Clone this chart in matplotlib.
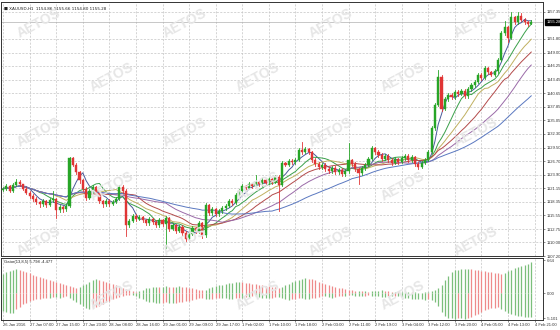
import matplotlib
matplotlib.use('Agg')
import matplotlib.pyplot as plt
import numpy as np
import pandas as pd

plt.rcParams['font.family'] = ['Liberation Sans', 'DejaVu Sans']

# ---- XAUUSD H1 candles ----
first_open = 1120.8
closes = [
    1121.0, 1121.5, 1120.6, 1121.8, 1122.5, 1121.9, 1121.0, 1120.2, 1119.5, 1119.0,
    1118.3, 1117.8, 1118.5, 1117.6, 1118.7, 1119.0, 1116.6, 1117.2, 1116.8, 1117.5,
    1127.3, 1126.0, 1124.4, 1122.8, 1121.0, 1119.2, 1120.5, 1121.3, 1120.2, 1118.5,
    1117.8, 1118.6, 1117.9, 1118.4, 1119.0, 1121.4, 1120.6, 1113.6, 1114.4, 1115.5,
    1114.8, 1115.2, 1114.5, 1113.9, 1114.8, 1114.2, 1113.5, 1114.6, 1113.8, 1115.0,
    1112.8, 1113.5, 1112.4, 1113.2, 1112.0, 1110.7, 1111.8, 1112.9, 1112.3, 1114.0,
    1111.5, 1117.6, 1116.0, 1116.8, 1115.8, 1116.4, 1117.0, 1117.5, 1118.6, 1118.0,
    1119.8, 1120.5, 1121.5, 1121.2, 1122.0, 1121.6, 1122.4, 1121.9, 1122.8, 1122.2,
    1123.0, 1122.5, 1123.5, 1121.8, 1126.3, 1126.0, 1126.8, 1126.5, 1127.0, 1129.0,
    1128.6, 1129.2, 1128.5, 1127.0, 1126.2, 1125.4, 1126.0, 1125.1, 1124.6, 1125.3,
    1124.4, 1124.9, 1124.0, 1124.6, 1126.9, 1126.2, 1125.0, 1124.2, 1125.2, 1126.0,
    1127.2, 1129.4, 1128.6, 1128.0, 1127.2, 1127.8, 1127.0, 1126.4, 1127.1, 1126.6,
    1127.3, 1127.8, 1126.9, 1127.5, 1126.2, 1125.5, 1126.4, 1127.0, 1128.6, 1133.5,
    1138.3, 1144.0, 1137.5, 1139.5, 1140.3, 1139.8, 1141.0, 1140.5, 1141.2, 1140.0,
    1141.5, 1142.3, 1143.0, 1144.5, 1143.8, 1145.8, 1145.0, 1144.5, 1145.2, 1147.5,
    1153.0, 1154.2, 1152.0, 1156.3, 1155.2, 1156.5, 1155.8, 1155.3, 1154.86, 1155.28,
]
highs = [
    1121.4, 1121.9, 1121.8, 1122.2, 1123.0, 1122.8, 1122.1, 1121.3, 1120.5, 1119.9,
    1119.3, 1118.6, 1118.9, 1118.8, 1119.1, 1120.6, 1119.2, 1117.6, 1117.5, 1117.9,
    1127.6, 1127.5, 1126.3, 1124.7, 1123.1, 1121.3, 1120.9, 1121.7, 1121.6, 1120.5,
    1118.8, 1119.0, 1118.9, 1118.8, 1119.4, 1121.8, 1121.7, 1120.9, 1114.9, 1115.9,
    1115.8, 1115.6, 1115.5, 1114.8, 1115.2, 1115.1, 1114.5, 1115.0, 1114.9, 1115.4,
    1115.3, 1113.9, 1113.8, 1113.6, 1113.5, 1112.3, 1112.2, 1113.3, 1113.2, 1114.4,
    1114.2, 1118.0, 1117.9, 1117.2, 1117.1, 1116.8, 1117.4, 1117.9, 1119.0, 1118.9,
    1120.2, 1120.9, 1121.9, 1121.8, 1122.4, 1122.3, 1123.8, 1122.7, 1123.2, 1123.1,
    1123.4, 1123.3, 1123.9, 1123.8, 1126.7, 1126.6, 1127.2, 1127.1, 1127.4, 1129.4,
    1130.6, 1129.6, 1129.5, 1128.8, 1127.3, 1126.5, 1126.4, 1126.3, 1125.4, 1125.7,
    1125.6, 1125.3, 1125.2, 1125.0, 1130.4, 1127.2, 1126.5, 1125.3, 1125.6, 1126.4,
    1127.6, 1129.8, 1129.7, 1128.9, 1128.3, 1128.2, 1128.1, 1127.3, 1127.5, 1127.4,
    1127.7, 1128.2, 1128.1, 1127.9, 1127.8, 1126.5, 1126.8, 1127.4, 1129.0, 1133.9,
    1138.7, 1145.4, 1144.3, 1139.9, 1140.7, 1140.6, 1141.4, 1141.3, 1141.6, 1141.5,
    1141.9, 1142.7, 1143.4, 1144.9, 1144.8, 1146.2, 1146.1, 1145.3, 1145.6, 1147.9,
    1153.4, 1155.6, 1154.5, 1157.3, 1156.6, 1157.4, 1157.1, 1156.1, 1155.6, 1155.66,
]
lows = [
    1120.5, 1120.8, 1120.3, 1120.4, 1121.5, 1121.6, 1120.7, 1119.9, 1119.1, 1118.6,
    1117.9, 1117.3, 1117.5, 1117.2, 1117.4, 1118.4, 1115.0, 1116.2, 1116.3, 1116.5,
    1117.2, 1125.6, 1124.0, 1122.3, 1120.5, 1118.8, 1118.9, 1120.1, 1119.8, 1118.1,
    1117.3, 1117.5, 1117.5, 1117.6, 1118.1, 1118.8, 1120.2, 1111.3, 1113.2, 1114.1,
    1114.4, 1114.5, 1114.1, 1113.5, 1113.6, 1113.8, 1113.1, 1113.2, 1113.4, 1108.8,
    1112.4, 1112.5, 1112.0, 1112.1, 1111.6, 1110.2, 1110.4, 1111.5, 1111.9, 1112.0,
    1111.0, 1111.2, 1115.6, 1115.7, 1115.4, 1115.5, 1116.1, 1116.7, 1117.2, 1117.6,
    1117.8, 1119.5, 1120.2, 1120.8, 1120.9, 1121.2, 1121.3, 1121.5, 1121.6, 1121.8,
    1121.9, 1122.1, 1122.2, 1116.5, 1121.5, 1125.6, 1125.7, 1126.1, 1126.2, 1126.8,
    1128.2, 1128.3, 1128.1, 1126.6, 1125.8, 1125.0, 1125.1, 1124.7, 1124.2, 1124.3,
    1124.0, 1124.1, 1123.6, 1123.7, 1124.3, 1125.8, 1124.6, 1122.0, 1123.9, 1124.9,
    1125.7, 1126.9, 1128.2, 1127.6, 1126.8, 1126.9, 1126.6, 1126.0, 1126.1, 1126.2,
    1126.3, 1127.0, 1126.5, 1126.6, 1125.8, 1125.0, 1125.2, 1126.1, 1126.7, 1128.3,
    1133.2, 1138.0, 1137.0, 1137.2, 1139.1, 1139.4, 1139.5, 1140.1, 1140.2, 1139.6,
    1139.7, 1141.2, 1142.0, 1142.7, 1143.4, 1143.5, 1144.6, 1144.1, 1144.2, 1144.9,
    1147.2, 1152.7, 1151.2, 1151.7, 1154.8, 1154.9, 1155.4, 1154.9, 1154.5, 1154.80,
]

# Gator oscillator histogram
gator_up = [
    3.6, 3.9, 4.2, 4.4, 4.5, 4.3, 4.1, 3.9, 3.7, 3.5,
    3.3, 3.1, 2.9, 2.7, 2.5, 2.3, 2.1, 1.9, 1.7, 1.5,
    1.3, 1.1, 1.0, 1.2, 1.5, 1.8, 2.1, 2.4, 2.6, 2.5,
    2.3, 2.1, 1.9, 1.7, 1.5, 1.2, 1.0, 0.8, 0.6, 0.4,
    0.3, 0.5, 0.7, 0.9, 1.0, 1.1, 1.2, 1.1, 1.2, 1.3,
    1.2, 1.1, 1.2, 1.3, 1.2, 1.1, 1.0, 0.9, 0.8, 0.7,
    0.6, 0.7, 0.9, 1.1, 1.3, 1.5, 1.6, 1.8, 1.9, 2.0,
    2.1, 2.2, 2.1, 2.0, 1.9, 1.8, 1.7, 1.6, 1.5, 1.4,
    1.3, 1.2, 1.1, 1.0, 1.2, 1.5, 1.8, 2.1, 2.3, 2.5,
    2.7, 2.8, 2.7, 2.6, 2.4, 2.2, 2.0, 1.8, 1.6, 1.4,
    1.2, 1.0, 0.9, 0.8, 0.7, 0.6, 0.5, 0.5, 0.4, 0.4,
    0.3, 0.4, 0.5, 0.5, 0.6, 0.5, 0.4, 0.3, 0.3, 0.2,
    0.2, 0.3, 0.3, 0.2, 0.2, 0.1, 0.1, 0.2, 0.3, 0.4,
    0.6, 1.0, 1.6, 2.5, 3.3, 3.9, 4.3, 4.4, 4.5, 4.5,
    4.6, 4.5, 4.4, 4.3, 4.2, 4.1, 4.0, 3.9, 3.8, 3.7,
    3.6, 3.8, 4.1, 4.4, 4.7, 4.9, 5.1, 5.3, 5.5, 5.798,
]
gator_dn = [
    -3.3, -3.5, -3.6, -3.6, -3.0, -2.5, -2.1, -1.8, -1.5, -1.3,
    -1.1, -1.0, -0.9, -0.8, -0.8, -0.7, -0.7, -0.8, -0.7, -0.6,
    -0.8, -1.2, -1.6, -2.0, -2.4, -2.7, -2.9, -2.8, -2.6, -2.3,
    -2.0, -1.7, -1.4, -1.1, -0.9, -0.7, -0.5, -0.4, -0.3, -0.3,
    -0.5, -0.8, -1.1, -1.4, -1.6, -1.7, -1.8, -1.9, -1.8, -1.7,
    -1.8, -1.9, -1.8, -1.7, -1.6, -1.5, -1.4, -1.3, -1.1, -0.9,
    -0.8, -1.0, -1.1, -1.0, -0.9, -0.8, -0.8, -0.9, -1.0, -1.0,
    -0.9, -0.8, -0.8, -0.7, -0.7, -0.6, -0.6, -0.7, -0.8, -0.8,
    -0.9, -0.8, -0.7, -0.7, -0.8, -1.0, -1.2, -1.1, -1.0, -0.9,
    -0.9, -1.0, -1.0, -0.9, -0.8, -0.7, -0.6, -0.6, -0.7, -0.8,
    -0.7, -0.6, -0.5, -0.5, -0.4, -0.4, -0.5, -0.6, -0.6, -0.5,
    -0.4, -0.5, -0.6, -0.6, -0.7, -0.7, -0.6, -0.6, -0.5, -0.6,
    -0.7, -0.8, -0.9, -1.0, -1.0, -1.1, -1.1, -1.2, -1.0, -1.2,
    -1.6, -2.4, -3.5, -4.3, -4.6, -4.7, -4.75, -4.6, -4.7, -4.75,
    -4.6, -4.4, -4.1, -3.8, -3.5, -3.2, -3.0, -2.8, -2.7, -2.6,
    -2.9, -3.3, -3.6, -3.9, -4.1, -4.2, -4.3, -4.4, -4.45, -4.477,
]

price_ticks = [1107.20, 1110.00, 1112.75, 1115.55, 1118.35, 1121.15, 1123.90, 1126.70,
               1129.50, 1132.30, 1135.05, 1137.85, 1140.65, 1143.45, 1146.25, 1149.00,
               1151.80, 1157.35]
time_labels = ['26 Jan 2016', '27 Jan 07:00', '27 Jan 15:00', '27 Jan 23:00', '28 Jan 08:00',
               '28 Jan 16:00', '29 Jan 01:00', '29 Jan 09:00', '29 Jan 17:00', '1 Feb 02:00',
               '1 Feb 10:00', '1 Feb 18:00', '2 Feb 03:00', '2 Feb 11:00', '2 Feb 19:00',
               '3 Feb 04:00', '3 Feb 12:00', '3 Feb 20:00', '4 Feb 05:00', '4 Feb 13:00',
               '4 Feb 21:00']
ma_periods = [5, 10, 15, 21, 30, 45]
ma_colors = ['#4a5a9a', '#3aa04a', '#c0b060', '#b34a4a', '#9a6aa8', '#5a78c0']

df = pd.DataFrame({'close': closes, 'high': highs, 'low': lows})
df['open'] = [first_open] + closes[:-1]
n = len(df)
x = np.arange(n)

fig = plt.figure(figsize=(5.6, 3.3), dpi=100)
ax = fig.add_axes([0.002, 0.2242, 0.968, 0.7697])
ax2 = fig.add_axes([0.002, 0.0303, 0.968, 0.1879])

grid_kw = dict(color='#c4c4c4', lw=0.5, ls=(0, (3, 2)))
fs = 3.0

# watermark (kept inside the figure)
for r, wy in enumerate(np.arange(0.93, 0.0, -0.165)):
    off = 0.0 if r % 2 == 0 else 0.13
    for wx in np.arange(0.07 + off, 0.95, 0.26):
        fig.text(wx, wy, 'AETOS', fontsize=10, fontweight='bold', color='#e6e6e6',
                 rotation=28, ha='center', va='center', zorder=0)

ax.patch.set_alpha(0)
ax2.patch.set_alpha(0)

for i, r in df.iterrows():
    c = '#27a527' if r['close'] >= r['open'] else '#e03535'
    ax.plot([i, i], [r['low'], r['high']], color=c, lw=0.6, zorder=3)
    lo, hi = sorted([r['open'], r['close']])
    ax.add_patch(plt.Rectangle((i - 0.32, lo), 0.64, max(hi - lo, 0.08),
                               facecolor=c, edgecolor=c, lw=0.3, zorder=4))

for p, col in zip(ma_periods, ma_colors):
    ma = df['close'].rolling(p, min_periods=1).mean()
    ax.plot(x, ma, color=col, lw=0.7, zorder=2)

last = closes[-1]
ax.axhline(last, color='#b0b0b0', lw=0.5, zorder=1)

xt = np.arange(0, 8 * len(time_labels), 8)
for a in (ax, ax2):
    a.set_xlim(-0.6, 162.6)
    for t in xt:
        a.axvline(t, **grid_kw, zorder=0)
    a.yaxis.tick_right()
    a.tick_params(axis='both', labelsize=fs, length=1.5, width=0.4, pad=1, colors='#333333')
    for s in a.spines.values():
        s.set_linewidth(0.7)
        s.set_color('#333333')

ax.set_ylim(1107.2, 1159.4)
ax.set_yticks(price_ticks)
ax.set_yticklabels(['%.2f' % v for v in price_ticks])
for v in price_ticks:
    ax.axhline(v, **grid_kw, zorder=0)
ax.set_xticks([])
ax.text(1.006, last, '%.2f' % last, transform=ax.get_yaxis_transform(), fontsize=fs,
        color='white', va='center', ha='left',
        bbox=dict(boxstyle='square,pad=0.3', fc='black', ec='black'))
ax.text(0.006, 0.982, '\u25a0 XAUUSD,H1  1154.86 1155.66 1154.80 1155.28', transform=ax.transAxes,
        fontsize=fs, va='top', ha='left', color='#222222', family=['DejaVu Sans'])

# lower panel: gator histogram, green when the bar grows, red when it shrinks
gu = np.array(gator_up)
gd = np.array(gator_dn)
up_col = ['#7bbf7b' if i == 0 or gu[i] >= gu[i - 1] else '#ee8a8a' for i in range(n)]
dn_col = ['#7bbf7b' if i == 0 or abs(gd[i]) >= abs(gd[i - 1]) else '#ee8a8a' for i in range(n)]
ax2.set_ylim(-5.0, 6.6)
ax2.vlines(x, 0, gu, colors=up_col, lw=0.9)
ax2.vlines(x, gd, 0, colors=dn_col, lw=0.9)
ax2.set_yticks([6.2, 0, -4.7])
ax2.set_yticklabels(['6.64', '0.00', '-5.101'])
ax2.set_xticks(xt)
ax2.set_xticklabels(time_labels)
for lab in ax2.get_xticklabels():
    lab.set_ha('left')
ax2.text(0.006, 0.96, 'Gator(13,8,5) 5.798 -4.477', transform=ax2.transAxes,
         fontsize=fs, va='top', ha='left', color='#222222')

fig.savefig('out.png', dpi=100, facecolor='white')
